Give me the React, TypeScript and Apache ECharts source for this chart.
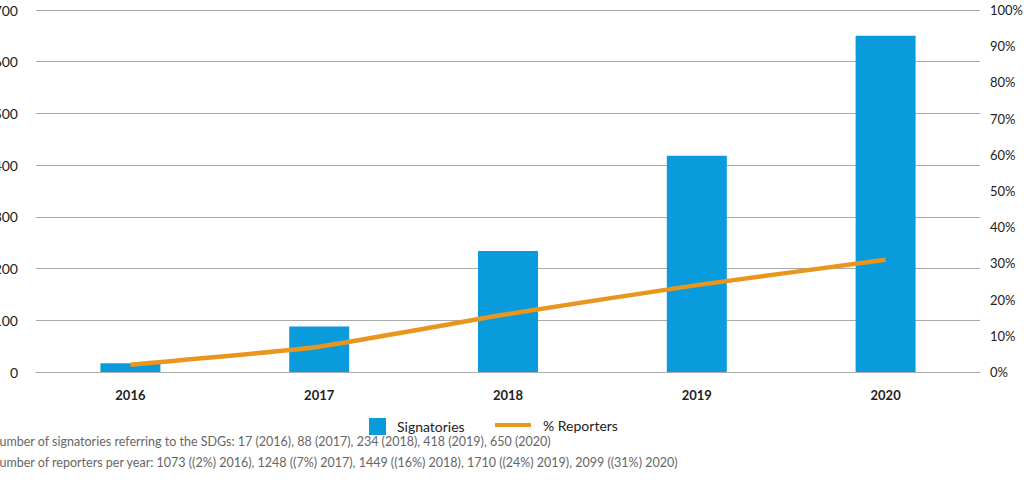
import React, { useEffect, useRef } from "react";
import * as echarts from "echarts";

const years = ["2016", "2017", "2018", "2019", "2020"];
const signatories = [17, 88, 234, 418, 650];
const reportersPct = [2, 7, 16, 24, 31];
const footnotes = [
  "Number of signatories referring to the SDGs: 17 (2016), 88 (2017), 234 (2018), 418 (2019), 650 (2020)",
  "Number of reporters per year: 1073 ((2%) 2016), 1248 ((7%) 2017), 1449 ((16%) 2018), 1710 ((24%) 2019), 2099 ((31%) 2020)",
];

const FONT = "Lato, 'Open Sans', sans-serif";

export default function App() {
  const ref = useRef<HTMLDivElement>(null);
  useEffect(() => {
    if (!ref.current) return;
    const chart = echarts.init(ref.current, undefined, { renderer: "svg" });
    chart.setOption({
      animation: false,
      textStyle: { fontFamily: FONT },
      grid: { left: 36, right: 44, top: 10, bottom: 131, outerBoundsMode: "none", containLabel: false },
      legend: [
        {
          data: [{ name: "Signatories", icon: "rect" }],
          left: 364,
          top: 413,
          itemWidth: 17,
          itemHeight: 17,
          textStyle: { fontSize: 14, color: "#222", fontFamily: FONT, padding: [0, 0, 0, 6] },
        },
        {
          data: [{ name: "% Reporters", icon: "rect" }],
          left: 490,
          top: 413,
          itemWidth: 36,
          itemHeight: 4,
          textStyle: { fontSize: 14, color: "#222", fontFamily: FONT, padding: [0, 0, 0, 7] },
        },
      ],
      xAxis: {
        type: "category",
        data: years,
        axisLine: { show: true, lineStyle: { color: "#aaa", width: 1 } },
        axisTick: { show: false },
        axisLabel: { fontSize: 13, fontWeight: "bold", color: "#222", margin: 16 },
      },
      yAxis: [
        {
          type: "value",
          min: 0,
          max: 700,
          interval: 100,
          axisLine: { show: false },
          axisTick: { show: false },
          axisLabel: { fontSize: 14, color: "#222", margin: 18 },
          splitLine: { lineStyle: { color: "#aaa", width: 1 } },
        },
        {
          type: "value",
          min: 0,
          max: 100,
          interval: 10,
          position: "right",
          axisLine: { show: false },
          axisTick: { show: false },
          axisLabel: { fontSize: 13, color: "#222", margin: 10, formatter: "{value}%" },
          splitLine: { show: false },
        },
      ],
      series: [
        {
          name: "Signatories",
          type: "bar",
          data: signatories,
          barWidth: 60,
          itemStyle: { color: "#0a9bdc" },
        },
        {
          name: "% Reporters",
          type: "line",
          yAxisIndex: 1,
          data: reportersPct,
          smooth: 0.15,
          symbol: "none",
          lineStyle: { color: "#e8961e", width: 4.5 },
          itemStyle: { color: "#e8961e" },
        },
      ],
      graphic: footnotes.map((t, i) => ({
        type: "text",
        left: -10,
        top: 435 + i * 21,
        style: { text: t, fontSize: 12.5, fill: "#666", fontFamily: FONT },
      })),
    });
    return () => chart.dispose();
  }, []);
  return (
    <div
      ref={ref}
      style={{ position: "absolute", left: 0, top: 0, width: 1024, height: 503 }}
    />
  );
}
